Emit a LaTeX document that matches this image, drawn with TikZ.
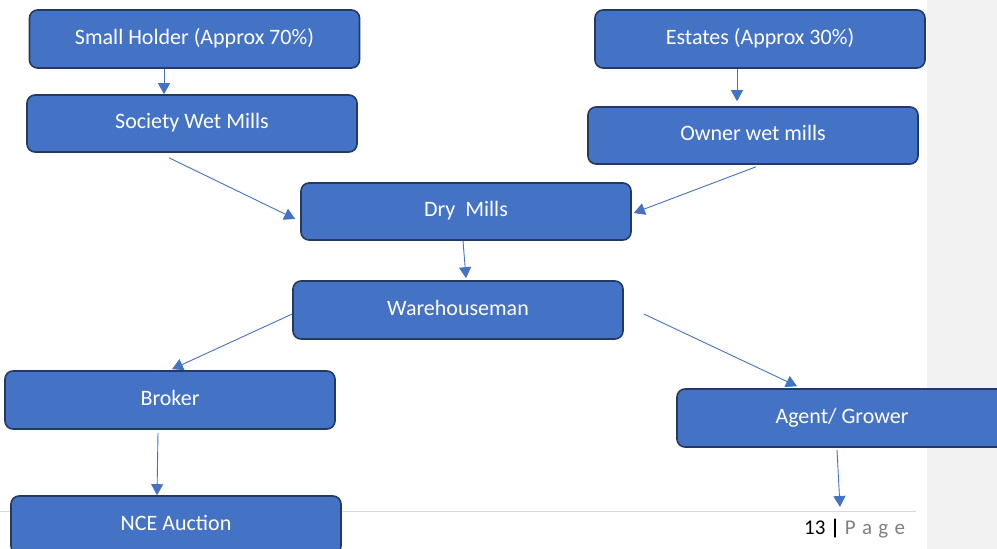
\documentclass[tikz,border=0pt]{standalone}
\usepackage{fontspec}
\setmainfont{Carlito}
\usetikzlibrary{arrows.meta}
\definecolor{boxblue}{HTML}{4472C4}
\definecolor{boxedge}{HTML}{233A63}
\definecolor{arrblue}{HTML}{4472C4}
\definecolor{bandgrey}{HTML}{F2F2F2}
\definecolor{footgrey}{HTML}{D9D9D9}
\definecolor{pagegrey}{HTML}{808080}
\begin{document}
\begin{tikzpicture}[x=1pt,y=-1pt,
  flowbox/.style={draw=boxedge, line width=1.6pt, fill=boxblue, rounded corners=8pt,
    minimum width=330pt, minimum height=57pt, inner sep=0pt, text=white,
    font=\fontsize{22}{26}\selectfont, text height=15.5pt, text depth=5.5pt},
  arr/.style={draw=arrblue, line width=0.9pt, -{Triangle[length=11pt,width=12pt]}}]
\useasboundingbox (0,0) rectangle (997,549);
\clip (0,0) rectangle (997,549);
\fill[bandgrey] (927,0) rectangle (997,549);
\draw[footgrey, line width=1pt] (0,511) -- (916,511);

\node[flowbox, minimum height=58pt] (sh)  at (194.5,39) {Small Holder (Approx 70\%)};
\node[flowbox] (soc) at (192,123.5) {Society Wet Mills};
\node[flowbox, minimum height=58pt] (est) at (760,39) {Estates (Approx 30\%)};
\node[flowbox] (own) at (753,135.5) {Owner wet mills};
\node[flowbox] (dry) at (466,211.5) {Dry\ \ Mills};
\node[flowbox, minimum height=58pt] (wh)  at (458,310) {Warehouseman};
\node[flowbox, minimum height=58pt] (brk) at (170,400) {Broker};
\node[flowbox, minimum height=58pt] (nce) at (176,525) {NCE Auction};
\node[flowbox, minimum height=58pt] (agt) at (842,418) {Agent/ Grower};
\coordinate (agtend) at (840,507);

\draw[arr] ([xshift=-30.5pt]sh.south) -- ([xshift=-28pt]soc.north);
\draw[arr] ([xshift=-23pt]est.south) -- ([xshift=-16pt,yshift=5pt]own.north);
\draw[arr] ([xshift=-23pt,yshift=-5pt]soc.south) -- ([xshift=-5pt,yshift=-7.5pt]dry.west);
\draw[arr] ([xshift=3pt,yshift=-2pt]own.south) -- ([xshift=2pt,yshift=-1.5pt]dry.east);
\draw[arr] ([xshift=-3pt]dry.south) -- ([xshift=8pt,yshift=2pt]wh.north);
\draw[arr] ([yshift=-4pt]wh.west) -- ([xshift=2pt,yshift=1pt]brk.north);
\draw[arr] ([xshift=20pt,yshift=-4pt]wh.east) -- ([xshift=-45pt,yshift=2pt]agt.north);
\draw[arr] ([xshift=-12pt,yshift=-3pt]brk.south) -- ([xshift=-19pt]nce.north);
\draw[arr] ([xshift=-5pt,yshift=-2pt]agt.south) -- (agtend);

\node[anchor=base west, inner sep=0pt, font=\fontsize{21}{24}\selectfont] (pg) at (804,534)
  {13 \textbf{|} \textcolor{pagegrey}{P\hspace{0.3em}a\hspace{0.3em}g\hspace{0.3em}e}};
\end{tikzpicture}
\end{document}
